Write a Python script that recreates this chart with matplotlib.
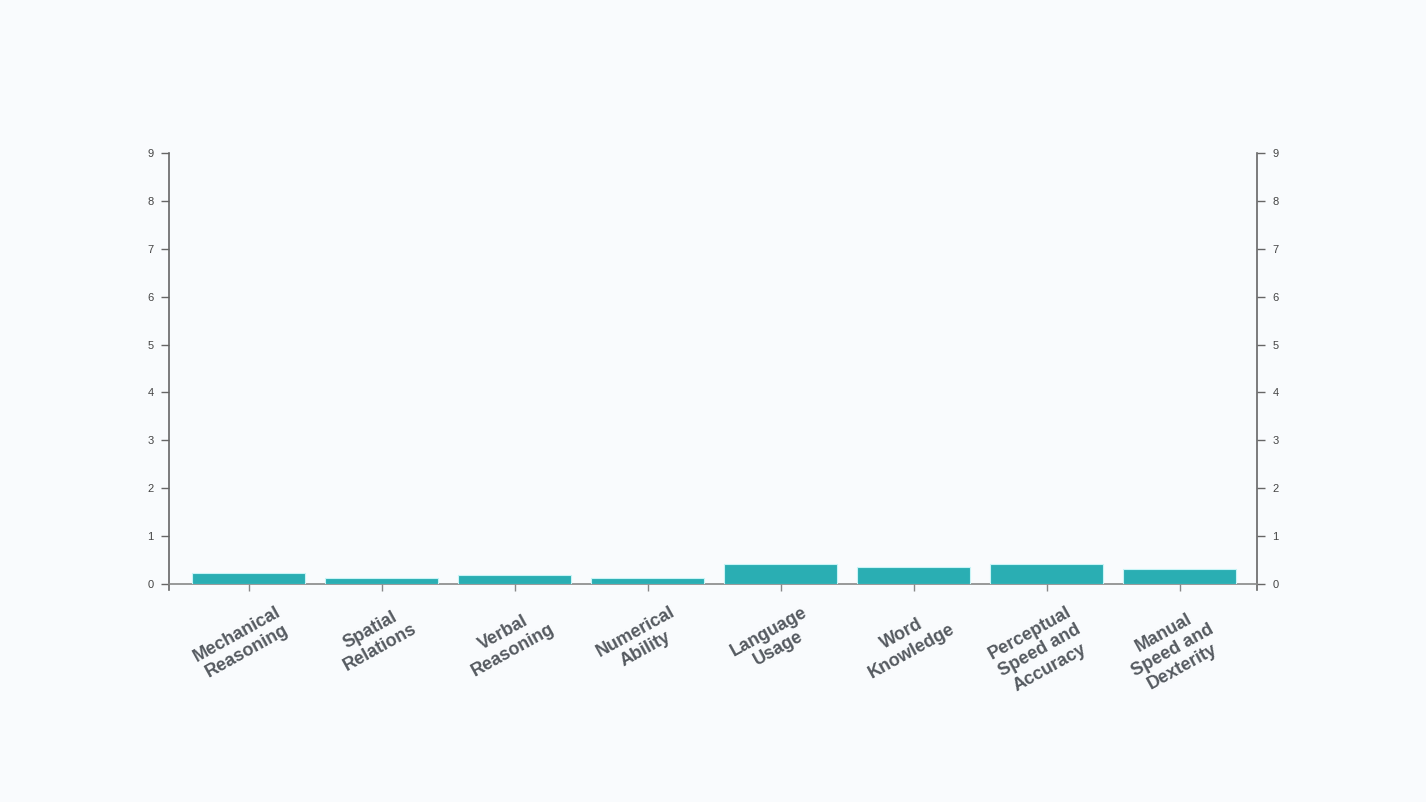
import matplotlib
matplotlib.use("Agg")
import matplotlib.pyplot as plt
import matplotlib.transforms as mtransforms
import numpy as np

plt.rcParams["font.family"] = ["Liberation Sans", "DejaVu Sans"]

categories = ["Mechanical\nReasoning", "Spatial\nRelations", "Verbal\nReasoning",
              "Numerical\nAbility", "Language\nUsage", "Word\nKnowledge",
              "Perceptual\nSpeed and\nAccuracy", "Manual\nSpeed and\nDexterity"]
values = [0.22, 0.12, 0.18, 0.12, 0.41, 0.36, 0.41, 0.31]
yticks = [0, 1, 2, 3, 4, 5, 6, 7, 8, 9]

bg = "#f9fbfd"
axis_col = "#666666"
text_col = "#444444"

fig = plt.figure(figsize=(14.26, 8.02), dpi=100, facecolor=bg)
ax = fig.add_axes([169 / 1426, (802 - 584) / 802, 1088 / 1426, 431 / 802])
ax.set_facecolor(bg)

x = np.arange(len(categories))
ax.bar(x, values, width=0.85, color="#2aaeb3", edgecolor="#c8f4f6", linewidth=0.8, zorder=3)

ax.set_xlim(-0.6, 7.58)
ax.set_ylim(0, 9)
ax.set_yticks(yticks)
ax.tick_params(axis="y", length=6, width=1, color=axis_col, labelsize=8,
               labelcolor=text_col, pad=5, left=True, right=True,
               labelleft=True, labelright=True)
ax.tick_params(axis="x", length=5, width=1, color="#888888", pad=9)
ax.set_xticks(x)
ax.set_xticklabels(categories, rotation=29, ha="center", va="top",
                   multialignment="center", fontsize=13, fontweight="bold",
                   color="#555a60", linespacing=1.2)
shift = mtransforms.ScaledTranslation(-7 / 100, 0, fig.dpi_scale_trans)
for lab in ax.get_xticklabels():
    lab.set_transform(lab.get_transform() + shift)

for side in ["left", "right"]:
    ax.spines[side].set_color(axis_col)
    ax.spines[side].set_linewidth(1.2)
    ax.spines[side].set_bounds(-0.13, 9)  # little outer tick below the baseline
ax.spines["bottom"].set_color("#888888")
ax.spines["bottom"].set_linewidth(1.2)
ax.spines["top"].set_visible(False)

fig.savefig("out.png", dpi=100, facecolor=bg)
